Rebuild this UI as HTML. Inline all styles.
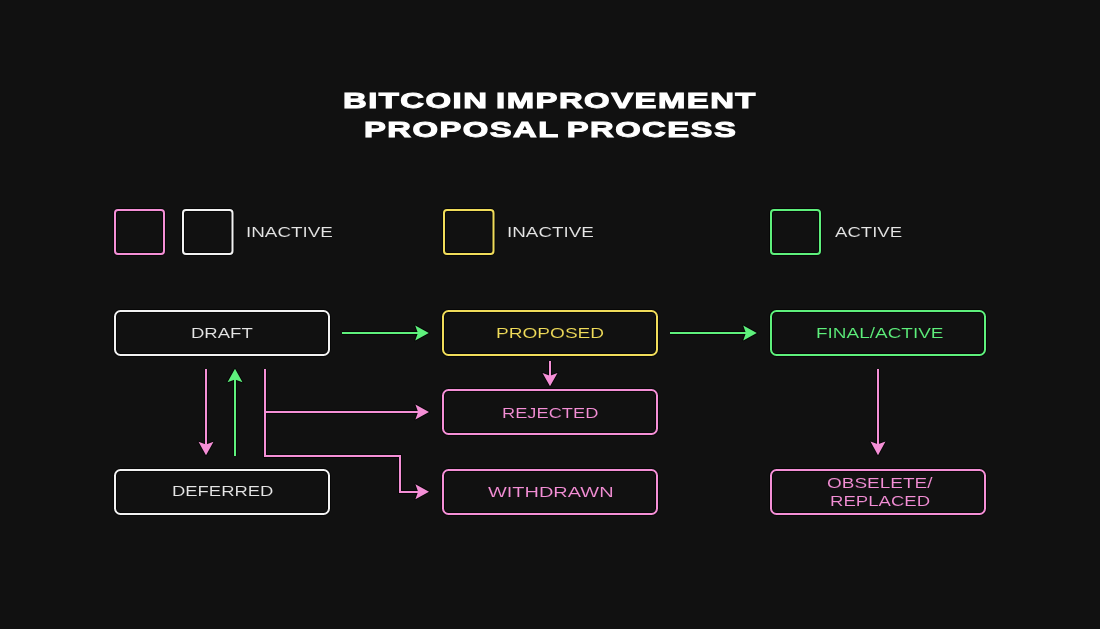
<!DOCTYPE html>
<html><head><meta charset="utf-8"><title>Bitcoin Improvement Proposal Process</title>
<style>
html,body{margin:0;padding:0;}
body{width:1100px;height:629px;background:#111111;position:relative;overflow:hidden;font-family:"Liberation Sans",sans-serif;}
svg{position:absolute;left:0;top:0;}
.t{position:absolute;font-size:15.5px;line-height:normal;white-space:pre;transform-origin:0 0;will-change:transform;-webkit-text-stroke:0.1px #111111;}
.h{position:absolute;font-size:22.5px;font-weight:bold;line-height:normal;white-space:pre;color:#ffffff;-webkit-text-stroke:1px #ffffff;letter-spacing:1px;word-spacing:-2px;transform-origin:0 0;will-change:transform;}
</style></head><body>
<svg width="1100" height="629" viewBox="0 0 1100 629">
<g opacity="0.55" stroke="#000" fill="none"><rect x="115" y="210" width="49" height="44" rx="3" ry="3" stroke-width="4"/><rect x="183" y="210" width="49.5" height="44" rx="3" ry="3" stroke-width="4"/><rect x="444" y="210" width="49.5" height="44" rx="3" ry="3" stroke-width="4"/><rect x="771" y="210" width="49" height="44" rx="3" ry="3" stroke-width="4"/><rect x="115" y="311" width="214" height="44" rx="5.5" ry="5.5" stroke-width="4"/><rect x="443" y="311" width="214" height="44" rx="5.5" ry="5.5" stroke-width="4"/><rect x="771" y="311" width="214" height="44" rx="5.5" ry="5.5" stroke-width="4"/><rect x="443" y="390" width="214" height="44" rx="5.5" ry="5.5" stroke-width="4"/><rect x="115" y="470" width="214" height="44" rx="5.5" ry="5.5" stroke-width="4"/><rect x="443" y="470" width="214" height="44" rx="5.5" ry="5.5" stroke-width="4"/><rect x="771" y="470" width="214" height="44" rx="5.5" ry="5.5" stroke-width="4"/><path d="M342,333 H420" stroke-width="4"/><polygon points="428.80,333.00 415.20,325.50 417.90,333.00 415.20,340.50" stroke-width="2" stroke-linejoin="round" fill="#000"/><path d="M670,333 H748" stroke-width="4"/><polygon points="756.80,333.00 743.20,325.50 745.90,333.00 743.20,340.50" stroke-width="2" stroke-linejoin="round" fill="#000"/><path d="M550,361 V379" stroke-width="4"/><polygon points="550.00,386.20 542.50,373.00 550.00,375.70 557.50,373.00" stroke-width="2" stroke-linejoin="round" fill="#000"/><path d="M206,369 V447" stroke-width="4"/><polygon points="206.00,455.30 198.50,441.70 206.00,444.40 213.50,441.70" stroke-width="2" stroke-linejoin="round" fill="#000"/><path d="M235,456 V377" stroke-width="4"/><polygon points="235.00,368.70 227.50,382.30 235.00,379.60 242.50,382.30" stroke-width="2" stroke-linejoin="round" fill="#000"/><path d="M265,369 V456 H400 V492 H421" stroke-width="4"/><polygon points="429.00,491.70 415.40,484.20 418.10,491.70 415.40,499.20" stroke-width="2" stroke-linejoin="round" fill="#000"/><path d="M265,412 H421" stroke-width="4"/><polygon points="429.00,412.00 415.40,404.50 418.10,412.00 415.40,419.50" stroke-width="2" stroke-linejoin="round" fill="#000"/><path d="M878,369 V447" stroke-width="4"/><polygon points="878.00,455.20 870.50,441.60 878.00,444.30 885.50,441.60" stroke-width="2" stroke-linejoin="round" fill="#000"/></g>
<rect x="115" y="210" width="49" height="44" rx="3" ry="3" fill="none" stroke="#f48fd6" stroke-width="2"/>
<rect x="183" y="210" width="49.5" height="44" rx="3" ry="3" fill="none" stroke="#f2f2f2" stroke-width="2"/>
<rect x="444" y="210" width="49.5" height="44" rx="3" ry="3" fill="none" stroke="#f0dc5a" stroke-width="2"/>
<rect x="771" y="210" width="49" height="44" rx="3" ry="3" fill="none" stroke="#5ef07c" stroke-width="2"/>
<rect x="115" y="311" width="214" height="44" rx="5.5" ry="5.5" fill="none" stroke="#f2f2f2" stroke-width="2"/>
<rect x="443" y="311" width="214" height="44" rx="5.5" ry="5.5" fill="none" stroke="#f0dc5a" stroke-width="2"/>
<rect x="771" y="311" width="214" height="44" rx="5.5" ry="5.5" fill="none" stroke="#5ef07c" stroke-width="2"/>
<rect x="443" y="390" width="214" height="44" rx="5.5" ry="5.5" fill="none" stroke="#f48fd6" stroke-width="2"/>
<rect x="115" y="470" width="214" height="44" rx="5.5" ry="5.5" fill="none" stroke="#f2f2f2" stroke-width="2"/>
<rect x="443" y="470" width="214" height="44" rx="5.5" ry="5.5" fill="none" stroke="#f48fd6" stroke-width="2"/>
<rect x="771" y="470" width="214" height="44" rx="5.5" ry="5.5" fill="none" stroke="#f48fd6" stroke-width="2"/>
<path d="M342,333 H420" fill="none" stroke="#5ef07c" stroke-width="2" stroke-linejoin="miter" stroke-linecap="butt"/>
<polygon points="428.80,333.00 415.20,325.50 417.90,333.00 415.20,340.50" fill="#5ef07c"/>
<path d="M670,333 H748" fill="none" stroke="#5ef07c" stroke-width="2" stroke-linejoin="miter" stroke-linecap="butt"/>
<polygon points="756.80,333.00 743.20,325.50 745.90,333.00 743.20,340.50" fill="#5ef07c"/>
<path d="M550,361 V379" fill="none" stroke="#f48fd6" stroke-width="2" stroke-linejoin="miter" stroke-linecap="butt"/>
<polygon points="550.00,386.20 542.50,373.00 550.00,375.70 557.50,373.00" fill="#f48fd6"/>
<path d="M206,369 V447" fill="none" stroke="#f48fd6" stroke-width="2" stroke-linejoin="miter" stroke-linecap="butt"/>
<polygon points="206.00,455.30 198.50,441.70 206.00,444.40 213.50,441.70" fill="#f48fd6"/>
<path d="M235,456 V377" fill="none" stroke="#5ef07c" stroke-width="2" stroke-linejoin="miter" stroke-linecap="butt"/>
<polygon points="235.00,368.70 227.50,382.30 235.00,379.60 242.50,382.30" fill="#5ef07c"/>
<path d="M265,369 V456 H400 V492 H421" fill="none" stroke="#f48fd6" stroke-width="2" stroke-linejoin="miter" stroke-linecap="butt"/>
<polygon points="429.00,491.70 415.40,484.20 418.10,491.70 415.40,499.20" fill="#f48fd6"/>
<path d="M265,412 H421" fill="none" stroke="#f48fd6" stroke-width="2" stroke-linejoin="miter" stroke-linecap="butt"/>
<polygon points="429.00,412.00 415.40,404.50 418.10,412.00 415.40,419.50" fill="#f48fd6"/>
<path d="M878,369 V447" fill="none" stroke="#f48fd6" stroke-width="2" stroke-linejoin="miter" stroke-linecap="butt"/>
<polygon points="878.00,455.20 870.50,441.60 878.00,444.30 885.50,441.60" fill="#f48fd6"/>
</svg>
<div class="t" style="left:245.77px;top:223.10px;color:#e6e6e6;transform:scaleX(1.2145)">INACTIVE</div>
<div class="t" style="left:506.77px;top:223.10px;color:#e6e6e6;transform:scaleX(1.2145)">INACTIVE</div>
<div class="t" style="left:834.78px;top:223.10px;color:#e6e6e6;transform:scaleX(1.1977)">ACTIVE</div>
<div class="t" style="left:190.96px;top:323.80px;color:#e6e6e6;transform:scaleX(1.1942)">DRAFT</div>
<div class="t" style="left:496.37px;top:323.70px;color:#f0dc5a;transform:scaleX(1.2307)">PROPOSED</div>
<div class="t" style="left:816.36px;top:323.60px;color:#5ef07c;transform:scaleX(1.2236)">FINAL/ACTIVE</div>
<div class="t" style="left:501.63px;top:403.80px;color:#f48fd6;transform:scaleX(1.1779)">REJECTED</div>
<div class="t" style="left:171.64px;top:482.40px;color:#e6e6e6;transform:scaleX(1.1886)">DEFERRED</div>
<div class="t" style="left:488.08px;top:483.00px;color:#f48fd6;transform:scaleX(1.2868)">WITHDRAWN</div>
<div class="t" style="left:827.19px;top:473.80px;color:#f48fd6;transform:scaleX(1.2237)">OBSELETE/</div>
<div class="t" style="left:830.19px;top:492.30px;color:#f48fd6;transform:scaleX(1.1977)">REPLACED</div>
<div class="h" style="left:342.54px;top:87.50px;transform:scaleX(1.4613)">BITCOIN IMPROVEMENT</div>
<div class="h" style="left:363.54px;top:117.30px;transform:scaleX(1.4571)">PROPOSAL PROCESS</div>
</body></html>
